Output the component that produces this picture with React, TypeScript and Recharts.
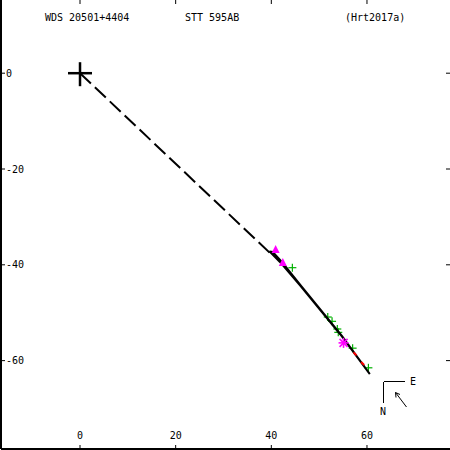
import React from 'react';
import { ScatterChart, Scatter, XAxis, YAxis, Customized } from 'recharts';

// ---- data ----
const xTicks = [0, 20, 40, 60];
const yTicks = [0, -20, -40, -60];
const xDomain: [number, number] = [-16.52, 77.36];
const yDomain: [number, number] = [-78.45, 15.28];

const primary = [{ x: 0, y: 0 }];
const nodeLine = [
  { x: 0, y: 0 },
  { x: 40.0, y: -37.8 },
];
const orbit = [
  { x: 39.6, y: -37.2 },
  { x: 41.8, y: -39.4 },
  { x: 46.0, y: -44.3 },
  { x: 54.4, y: -54.5 },
  { x: 60.6, y: -62.8 },
  { x: 54.8, y: -54.9 },
  { x: 46.4, y: -44.6 },
  { x: 42.2, y: -39.4 },
  { x: 40.3, y: -37.3 },
  { x: 39.6, y: -37.2 },
];
const greenObs = [
  { x: 44.4, y: -40.6 },
  { x: 51.8, y: -50.9 },
  { x: 52.7, y: -51.8 },
  { x: 53.8, y: -53.4 },
  { x: 54.0, y: -54.1 },
  { x: 57.0, y: -57.4 },
  { x: 60.3, y: -61.5 },
];
const magentaTri = [
  { x: 40.9, y: -36.9 },
  { x: 42.4, y: -39.6 },
];
const magentaStar = [{ x: 55.1, y: -56.3 }];
const residuals = [
  { x: 57.5, y: -58.6 },
  { x: 59.1, y: -60.6 },
];

const titles = ['WDS 20501+4404', 'STT 595AB', '(Hrt2017a)'];

const FONT = '"DejaVu Sans Mono", monospace';
const TINY = 0.001;

const BigPlus = (props: any) => {
  const { cx, cy } = props;
  return (
    <g stroke="#000" strokeWidth={2.5}>
      <line x1={cx - 12} y1={cy} x2={cx + 12} y2={cy} />
      <line x1={cx} y1={cy - 11} x2={cx} y2={cy + 13} />
    </g>
  );
};

const GreenPlus = (props: any) => {
  const { cx, cy } = props;
  return (
    <g stroke="#00b000" strokeWidth={1.2}>
      <line x1={cx - 4} y1={cy} x2={cx + 4} y2={cy} />
      <line x1={cx} y1={cy - 4} x2={cx} y2={cy + 4} />
    </g>
  );
};

const Tri = (props: any) => {
  const { cx, cy } = props;
  return <polygon points={`${cx},${cy - 5} ${cx - 4},${cy + 3} ${cx + 4},${cy + 3}`} fill="#ff00ff" />;
};

const Star = (props: any) => {
  const { cx, cy } = props;
  return (
    <g stroke="#ff00ff" strokeWidth={1.6}>
      <line x1={cx - 5} y1={cy} x2={cx + 5} y2={cy} />
      <line x1={cx} y1={cy - 5} x2={cx} y2={cy + 5} />
      <line x1={cx - 4} y1={cy - 4} x2={cx + 4} y2={cy + 4} />
      <line x1={cx - 4} y1={cy + 4} x2={cx + 4} y2={cy - 4} />
    </g>
  );
};

const RedMark = (props: any) => {
  const { cx, cy } = props;
  return <line x1={cx - 1.5} y1={cy - 1.5} x2={cx + 1.5} y2={cy + 1.5} stroke="#ff0000" strokeWidth={2} />;
};

const Empty = () => <g />;

const Decorations = () => (
  <g fontFamily={FONT} fontSize={10} fill="#000">
    <text x={45} y={21}>{titles[0]}</text>
    <text x={185} y={21}>{titles[1]}</text>
    <text x={345} y={21}>{titles[2]}</text>
    <g stroke="#000" strokeWidth={1} fill="none" shapeRendering="crispEdges">
      <line x1={383.5} y1={381.5} x2={405} y2={381.5} />
      <line x1={383.5} y1={381.5} x2={383.5} y2={403} />
    </g>
    <g stroke="#000" strokeWidth={1} fill="none">
      <line x1={406.5} y1={407} x2={395.5} y2={392.5} />
      <line x1={395.5} y1={392.5} x2={400} y2={394.5} />
      <line x1={395.5} y1={392.5} x2={396} y2={397.5} />
    </g>
    <text x={410} y={385}>E</text>
    <text x={380} y={415}>N</text>
  </g>
);

export default function App() {
  return (
    <div style={{ position: 'absolute', left: 0, top: 0, width: 450, height: 450, background: '#fff' }}>
      <ScatterChart width={450} height={450} margin={{ top: 0, right: 0, bottom: 1, left: 1 }}>
        <XAxis
          xAxisId="b"
          type="number"
          dataKey="x"
          orientation="bottom"
          domain={xDomain}
          ticks={xTicks}
          allowDataOverflow
          mirror
          height={TINY}
          tickSize={4}
          tickMargin={6}
          axisLine={{ stroke: '#000', strokeWidth: 2 }}
          tickLine={{ stroke: '#000', strokeWidth: 1 }}
          tick={{ fill: '#000', fontSize: 10, fontFamily: FONT }}
        />
        <XAxis
          xAxisId="t"
          type="number"
          dataKey="x"
          orientation="top"
          domain={xDomain}
          ticks={xTicks}
          allowDataOverflow
          mirror
          height={TINY}
          tickSize={4}
          axisLine={false}
          tickLine={{ stroke: '#000', strokeWidth: 1 }}
          tick={Empty}
        />
        <YAxis
          yAxisId="l"
          type="number"
          dataKey="y"
          orientation="left"
          domain={yDomain}
          ticks={yTicks}
          allowDataOverflow
          mirror
          width={TINY}
          tickSize={4}
          tickMargin={1}
          axisLine={{ stroke: '#000', strokeWidth: 2 }}
          tickLine={{ stroke: '#000', strokeWidth: 1 }}
          tick={{ fill: '#000', fontSize: 10, fontFamily: FONT, textAnchor: 'start' }}
        />
        <YAxis
          yAxisId="r"
          type="number"
          dataKey="y"
          orientation="right"
          domain={yDomain}
          ticks={yTicks}
          allowDataOverflow
          mirror
          width={TINY}
          tickSize={4}
          axisLine={false}
          tickLine={{ stroke: '#000', strokeWidth: 1 }}
          tick={Empty}
        />
        <Scatter
          xAxisId="b"
          yAxisId="l"
          data={nodeLine}
          line={{ stroke: '#000', strokeWidth: 2, strokeDasharray: '15 5.5' }}
          lineType="joint"
          shape={Empty}
          isAnimationActive={false}
        />
        <Scatter xAxisId="b" yAxisId="l" data={greenObs} shape={GreenPlus} isAnimationActive={false} />
        <Scatter
          xAxisId="b"
          yAxisId="l"
          data={orbit}
          line={{ stroke: '#000', strokeWidth: 2 }}
          lineType="joint"
          shape={Empty}
          isAnimationActive={false}
        />
        <Scatter xAxisId="b" yAxisId="l" data={residuals} shape={RedMark} isAnimationActive={false} />
        <Scatter xAxisId="b" yAxisId="l" data={magentaTri} shape={Tri} isAnimationActive={false} />
        <Scatter xAxisId="b" yAxisId="l" data={magentaStar} shape={Star} isAnimationActive={false} />
        <Scatter xAxisId="b" yAxisId="l" data={primary} shape={BigPlus} isAnimationActive={false} />
        <Customized component={Decorations} />
      </ScatterChart>
    </div>
  );
}
